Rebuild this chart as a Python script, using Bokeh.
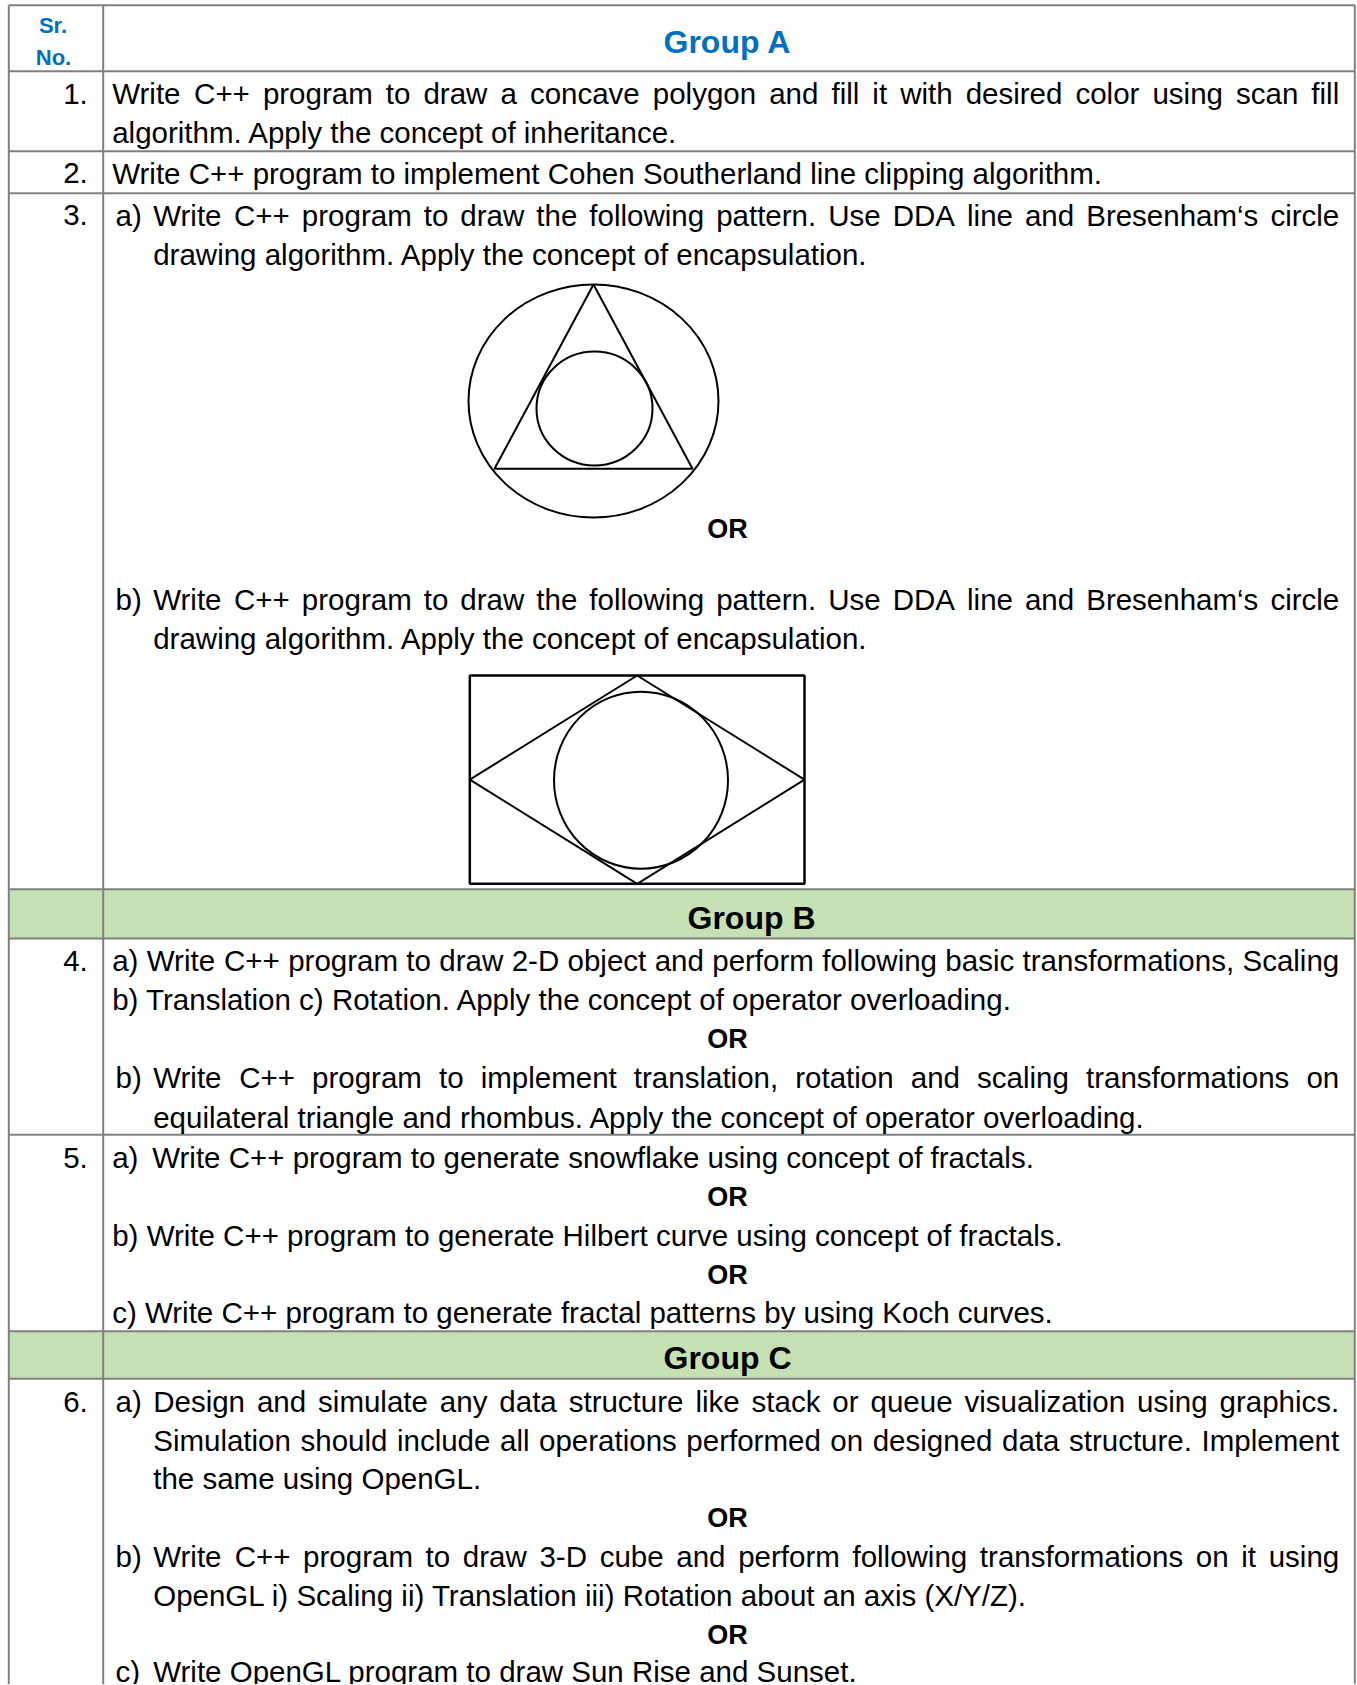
from bokeh.plotting import figure
from bokeh.models import Range1d, ColumnDataSource
from bokeh.core.properties import value
from bokeh.embed import file_html
from bokeh.resources import INLINE

# ---------------- content ----------------
HEADER_SR = ["Sr.", "No."]
GROUP_TITLES = ["Group A", "Group B", "Group C"]
ROW_NUMBERS = ["1.", "2.", "3.", "4.", "5.", "6."]
OR_TEXT = "OR"

# (kind, label, text, justified)
CONTENT = [
    ("plain", "", "Write C++ program to draw a concave polygon and fill it with desired color using scan fill", True),
    ("plain", "", "algorithm. Apply the concept of inheritance.", False),
    ("plain", "", "Write C++ program to implement Cohen Southerland line clipping algorithm.", False),
    ("item", "a)", "Write C++ program to draw the following pattern. Use DDA line and Bresenham\u2018s circle", True),
    ("cont", "", "drawing algorithm. Apply the concept of encapsulation.", False),
    ("or", "", OR_TEXT, False),
    ("item", "b)", "Write C++ program to draw the following pattern. Use DDA line and Bresenham\u2018s circle", True),
    ("cont", "", "drawing algorithm. Apply the concept of encapsulation.", False),
    ("plain", "", "a) Write C++ program to draw 2-D object and perform following basic transformations, Scaling", True),
    ("plain", "", "b) Translation c) Rotation. Apply the concept of operator overloading.", False),
    ("or", "", OR_TEXT, False),
    ("item", "b)", "Write C++ program to implement translation, rotation and scaling transformations on", True),
    ("cont", "", "equilateral triangle and rhombus. Apply the concept of operator overloading.", False),
    ("tab", "a)", "Write C++ program to generate snowflake using concept of fractals.", False),
    ("or", "", OR_TEXT, False),
    ("plain", "", "b) Write C++ program to generate Hilbert curve using concept of fractals.", False),
    ("or", "", OR_TEXT, False),
    ("plain", "", "c) Write C++ program to generate fractal patterns by using Koch curves.", False),
    ("item", "a)", "Design and simulate any data structure like stack or queue visualization using graphics.", True),
    ("cont", "", "Simulation should include all operations performed on designed data structure. Implement", True),
    ("cont", "", "the same using OpenGL.", False),
    ("or", "", OR_TEXT, False),
    ("item", "b)", "Write C++ program to draw 3-D cube and perform following transformations on it using", True),
    ("cont", "", "OpenGL i) Scaling ii) Translation iii) Rotation about an axis (X/Y/Z).", False),
    ("or", "", OR_TEXT, False),
    ("item", "c)", "Write OpenGL program to draw Sun Rise and Sunset.", False),
]

# ---------------- layout (page pixels) ----------------
PAGE_W, PAGE_H = 1357, 1684
LINE_BASELINES = [101.7, 140.8, 181.5, 223.1, 262.6, 536.5, 607.7, 646.4,
                  968.7, 1007.4, 1046.5, 1085.9, 1125.2,
                  1165.7, 1204.5, 1243.3, 1282.0, 1320.7,
                  1410.0, 1448.3, 1486.7, 1525.5, 1565.0, 1603.3, 1642.0, 1680.0]
NUMBER_BASELINES = [101.7, 181.5, 223.1, 968.7, 1165.7, 1410.0]
GROUP_BASELINES = [50.8, 926.5, 1366.5]
GROUP_X = [727.0, 751.0, 727.0]
SR_BASELINES = [31.7, 63.3]

H_LINES = [4.7, 70.7, 150.7, 192.7, 888.7, 938.0, 1134.3, 1330.7, 1378.3]
V_LINES = [8.3, 102.7, 1354.3]
GREEN_BANDS = [(888.7, 938.0), (1330.7, 1378.3)]
BOTTOM = 1700

X_PLAIN = 111.7
X_LABEL = 115.0
X_TAB_LABEL = 111.7
X_INDENT = 152.7
X_TAB_TEXT = 151.7
X_RIGHT = 1338.7
X_NUM_RIGHT = 87.3
X_CENTER = 727.0

FONT = "Liberation Sans"
SIZE = 29.5
BASE_SHIFT = 0.29  # em; compensates Bokeh's alphabetic baseline placement

# Arial / Liberation Sans advance widths (1/1000 em)
W = {' ': 278, '!': 278, '(': 333, ')': 333, '+': 584, ',': 278, '-': 333, '.': 278,
     '/': 278, ':': 278, '\u2018': 222, '\u2019': 222, "'": 191}
for d in "0123456789":
    W[d] = 556
W.update(dict(zip("ABCDEFGHIJKLMNOPQRSTUVWXYZ",
                  [667, 667, 722, 722, 667, 611, 778, 722, 278, 500, 667, 556, 833,
                   722, 778, 667, 778, 722, 667, 611, 722, 667, 944, 667, 667, 611])))
W.update(dict(zip("abcdefghijklmnopqrstuvwxyz",
                  [556, 556, 500, 556, 556, 278, 556, 556, 222, 222, 500, 222, 833,
                   556, 556, 556, 556, 333, 500, 278, 556, 500, 722, 500, 500, 500])))


def tw(s, size=SIZE):
    return sum(W.get(c, 556) for c in s) / 1000.0 * size


def by(ys, size):
    return [y - BASE_SHIFT * size for y in ys]


# ---------------- figure ----------------
p = figure(width=PAGE_W, height=PAGE_H, x_range=Range1d(0, PAGE_W), y_range=Range1d(PAGE_H, 0),
           output_backend="svg", toolbar_location=None, x_axis_location=None,
           y_axis_location=None, min_border=0, outline_line_color=None)
p.grid.visible = False
p.background_fill_color = "white"
p.border_fill_color = "white"

# green group bands
p.quad(left=[V_LINES[0]] * len(GREEN_BANDS), right=[V_LINES[2]] * len(GREEN_BANDS),
       top=[b[0] for b in GREEN_BANDS], bottom=[b[1] for b in GREEN_BANDS],
       fill_color="#C5E0B3", line_color=None)

# table rules
GRAY = "#808080"
p.segment(x0=[V_LINES[0]] * len(H_LINES), x1=[V_LINES[2]] * len(H_LINES),
          y0=H_LINES, y1=H_LINES, line_color=GRAY, line_width=2)
p.segment(x0=V_LINES, x1=V_LINES, y0=[H_LINES[0]] * 3, y1=[BOTTOM] * 3,
          line_color=GRAY, line_width=2)

# ---- diagram 1: circle, triangle, inscribed circle ----
c1x, c1y, r1x, r1y = 593.0, 400.5, 125.0, 116.5
base_y, half_base = 468.3, 99.0
inner_c = (594.0, 408.0, 116.0, 114.0)
p.ellipse(x=[c1x, inner_c[0]], y=[c1y, inner_c[1]], width=[2 * r1x, inner_c[2]],
          height=[2 * r1y, inner_c[3]], fill_color=None, line_color="black", line_width=2)
p.patch(x=[c1x, c1x - half_base, c1x + half_base], y=[c1y - r1y, base_y, base_y],
        fill_color=None, line_color="black", line_width=2)

# ---- diagram 2: box, rhombus, circle ----
bl, br, bt, bb = 469.3, 804.0, 675.0, 883.3
mx = 636.7
my = (bt + bb) / 2
p.quad(left=[bl], right=[br], top=[bt], bottom=[bb], fill_color=None,
       line_color="black", line_width=2.5)
p.patch(x=[mx, br, mx, bl], y=[bt, my, bb, my], fill_color=None,
        line_color="black", line_width=2)
p.ellipse(x=[640.5], y=[779.7], width=[174.0], height=[177.0], fill_color=None,
          line_color="black", line_width=2)

# ---------------- texts ----------------
tx, ty, tt = [], [], []
ox, oy, ot = [], [], []


def place(text, x0, y, justify, x1=X_RIGHT):
    if not justify:
        tx.append(x0); ty.append(y); tt.append(text)
        return
    words = text.split(" ")
    widths = [tw(w) for w in words]
    gap = (x1 - x0 - sum(widths)) / (len(words) - 1)
    x = x0
    for w, wd in zip(words, widths):
        tx.append(x); ty.append(y); tt.append(w)
        x += wd + gap


for (kind, label, text, just), y in zip(CONTENT, LINE_BASELINES):
    if kind == "or":
        ox.append(X_CENTER); oy.append(y); ot.append(text)
    elif kind == "plain":
        place(text, X_PLAIN, y, just)
    elif kind == "item":
        tx.append(X_LABEL); ty.append(y); tt.append(label)
        place(text, X_INDENT, y, just)
    elif kind == "tab":
        tx.append(X_TAB_LABEL); ty.append(y); tt.append(label)
        place(text, X_TAB_TEXT, y, just)
    elif kind == "cont":
        place(text, X_INDENT, y, just)

p.text(x="x", y="y", text="t", source=ColumnDataSource(dict(x=tx, y=by(ty, SIZE), t=tt)),
       text_font=value(FONT), text_font_size=value(f"{SIZE}px"), text_color="black",
       text_align="left", text_baseline="alphabetic")

# row numbers
p.text(x=[X_NUM_RIGHT] * len(ROW_NUMBERS), y=by(NUMBER_BASELINES, SIZE), text=ROW_NUMBERS,
       text_font=value(FONT), text_font_size=value(f"{SIZE}px"), text_color="black",
       text_align="right", text_baseline="alphabetic")

# OR
p.text(x=ox, y=by(oy, 27), text=ot, text_font=value(FONT), text_font_size=value("27px"),
       text_font_style="bold", text_color="black", text_align="center",
       text_baseline="alphabetic")

# group titles
p.text(x=GROUP_X, y=by(GROUP_BASELINES, 32), text=GROUP_TITLES, text_font=value(FONT),
       text_font_size=value("32px"), text_font_style="bold",
       text_color=["#0070C0", "black", "black"], text_align="center",
       text_baseline="alphabetic")

# header Sr. No.
p.text(x=[52.5, 53.0], y=by(SR_BASELINES, 22), text=HEADER_SR, text_font=value(FONT),
       text_font_size=value("22px"), text_font_style="bold", text_color="#0070C0",
       text_align="center", text_baseline="alphabetic")

open("out.html", "w").write(file_html(p, INLINE))
